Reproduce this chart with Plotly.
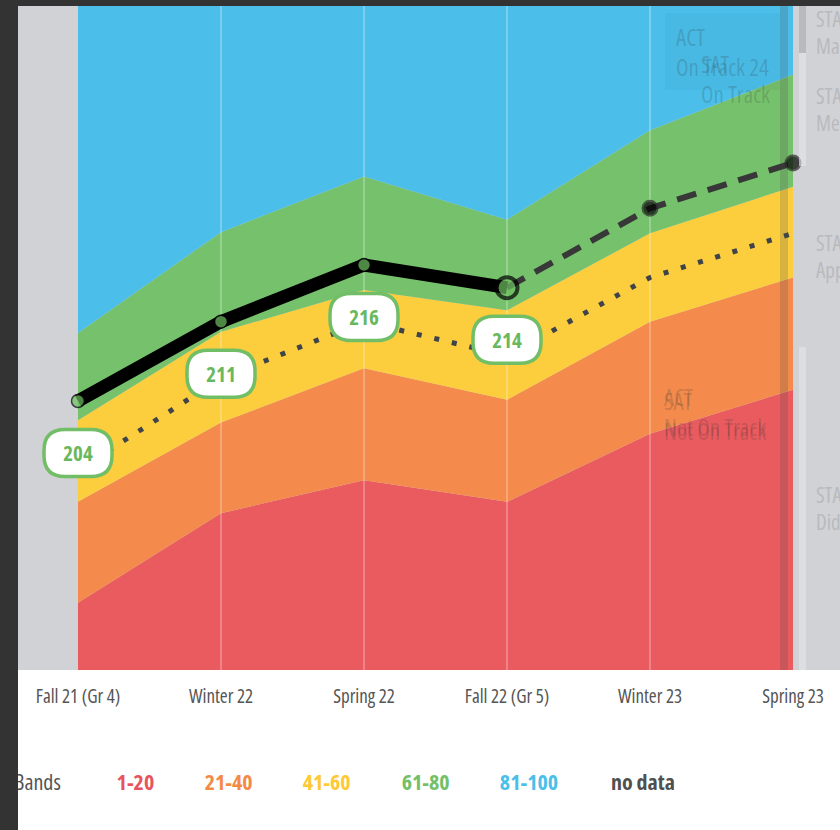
import plotly.graph_objects as go

# ---------------- data ----------------
periods = ["Fall 21 (Gr 4)", "Winter 22", "Spring 22", "Fall 22 (Gr 5)", "Winter 23", "Spring 23"]
band_1_20_top = [186.2, 194.1, 197.0, 195.1, 201.1, 205.0]
band_21_40_top = [195.1, 202.1, 206.9, 204.1, 211.0, 214.9]
band_41_60_top = [202.3, 210.1, 213.8, 212.0, 218.8, 222.9]
band_61_80_top = [210.0, 218.9, 223.8, 220.0, 227.9, 232.8]
band_81_100_top = [260, 260, 260, 260, 260, 260]
band_floor = [170, 170, 170, 170, 170, 170]

rit_actual = [204, 211, 216, 214]
rit_projected = [214, 221, 225]
typical_growth = [197.9, 206.0, 211.0, 208.0, 214.9, 218.8]

legend_title = "Bands"
legend_labels = ["1-20", "21-40", "41-60", "61-80", "81-100", "no data"]

# ---------------- style ----------------
W, H = 840, 830
ML, MR, MT, MB = 18, 0, 6, 160
PW, PH = W - ML - MR, H - MT - MB
band_colors = ["#e95b5f", "#f48b4c", "#fccd3d", "#76c16c", "#4bbfea"]
legend_colors = ["#e8545e", "#f38b47", "#fdc935", "#74bf67", "#4bbfe9", "#505050"]
GREEN_LBL = "#72be66"
FONT = "Open Sans, sans-serif"

x_idx = list(range(len(periods)))
X0_PX, X_STEP = 78, 143
X_RANGE = [(ML - X0_PX) / X_STEP, (W - X0_PX) / X_STEP]
PX_PER_UNIT = 136 / 12
Y_RANGE = [204 - (670 - 401) / PX_PER_UNIT, 204 + (401 - 6) / PX_PER_UNIT]


def pxx(p):
    return (p - ML) / PW


def pxy(p):
    return 1 - (p - MT) / PH


def px_to_x(p):
    return (p - X0_PX) / X_STEP


fig = go.Figure()

# bands (stacked fills)
fig.add_trace(go.Scatter(x=x_idx, y=band_floor, mode="lines", line=dict(width=0),
                         hoverinfo="skip", showlegend=False))
for tops, col in zip([band_1_20_top, band_21_40_top, band_41_60_top, band_61_80_top, band_81_100_top],
                     band_colors):
    fig.add_trace(go.Scatter(x=x_idx, y=tops, mode="lines", line=dict(width=0),
                             fill="tonexty", fillcolor=col, hoverinfo="skip", showlegend=False))

# vertical grid lines (inner periods)
gx, gy = [], []
for i in x_idx[1:-1]:
    gx += [i, i, None]
    gy += [Y_RANGE[0] - 5, Y_RANGE[1] + 5, None]
fig.add_trace(go.Scatter(x=gx, y=gy, mode="lines",
                         line=dict(color="rgba(255,255,255,0.5)", width=1),
                         hoverinfo="skip", showlegend=False))

# typical growth dotted line
fig.add_trace(go.Scatter(x=x_idx, y=typical_growth, mode="lines",
                         line=dict(color="#3e4449", width=5, dash="5px,13px"),
                         hoverinfo="skip", showlegend=False))

# translucent scroll strip near the right edge (UI artifact)
sx0, sx1 = px_to_x(780), px_to_x(788)
fig.add_trace(go.Scatter(x=[sx0, sx1, sx1, sx0, sx0],
                         y=[Y_RANGE[0] - 5, Y_RANGE[0] - 5, Y_RANGE[1] + 5, Y_RANGE[1] + 5, Y_RANGE[0] - 5],
                         mode="lines", line=dict(width=0), fill="toself",
                         fillcolor="rgba(70,70,70,0.2)", hoverinfo="skip", showlegend=False))

# projected dashed line
proj_x = x_idx[3:]
fig.add_trace(go.Scatter(x=proj_x, y=rit_projected, mode="lines+markers",
                         line=dict(color="#383838", width=6, dash="20px,12px"),
                         marker=dict(size=[0, 15, 15], color="#000000",
                                     line=dict(color="#2e2e2e", width=2)),
                         hoverinfo="skip", showlegend=False))

# actual RIT solid line
act_x = x_idx[:len(rit_actual)]
fig.add_trace(go.Scatter(x=act_x, y=rit_actual, mode="lines+markers",
                         line=dict(color="#000000", width=13),
                         marker=dict(size=[13, 13, 13, 21], color="#6fbf62",
                                     line=dict(color="#000000", width=[1.5, 1.5, 1.5, 4])),
                         hoverinfo="skip", showlegend=False))

shapes = []
annotations = []

# value labels (rounded boxes)
bw, bh, r, off = 68, 47, 21, 52
yb, yt = -off - bh / 2, -off + bh / 2
path = (f"M {-bw/2+r},{yb} L {bw/2-r},{yb} Q {bw/2},{yb} {bw/2},{yb+r} "
        f"L {bw/2},{yt-r} Q {bw/2},{yt} {bw/2-r},{yt} L {-bw/2+r},{yt} "
        f"Q {-bw/2},{yt} {-bw/2},{yt-r} L {-bw/2},{yb+r} Q {-bw/2},{yb} {-bw/2+r},{yb} Z")
for i, v in zip(act_x, rit_actual):
    shapes.append(dict(type="path", xref="x", yref="y", xsizemode="pixel", ysizemode="pixel",
                       xanchor=i, yanchor=v, path=path, fillcolor="white",
                       line=dict(color=GREEN_LBL, width=3.5), layer="above"))
    annotations.append(dict(x=i, y=v, xref="x", yref="y", text=f"<b>{v}</b>", showarrow=False,
                            yshift=-off, font=dict(family=FONT, size=21, color="#6ab85e")))

# right gray panel scroll artifacts
shapes.append(dict(type="rect", xref="paper", yref="paper", x0=pxx(799), x1=pxx(806),
                   y0=pxy(166), y1=1, fillcolor="rgba(230,230,232,0.6)", line=dict(width=0), layer="above"))
shapes.append(dict(type="rect", xref="paper", yref="paper", x0=pxx(799), x1=pxx(806),
                   y0=pxy(53), y1=1, fillcolor="rgba(150,150,155,0.5)", line=dict(width=0), layer="above"))
shapes.append(dict(type="rect", xref="paper", yref="paper", x0=pxx(799), x1=pxx(806),
                   y0=0, y1=pxy(347), fillcolor="rgba(230,230,232,0.6)", line=dict(width=0), layer="above"))
shapes.append(dict(type="rect", xref="paper", yref="paper", x0=pxx(665), x1=pxx(780),
                   y0=pxy(90), y1=pxy(13), fillcolor="rgba(0,0,0,0.03)", line=dict(width=0), layer="above"))

# dark frame (top)
shapes.append(dict(type="rect", xref="paper", yref="paper", x0=-ML / PW, x1=1.01,
                   y0=1, y1=1 + MT / PH + 0.01, fillcolor="#333333", line=dict(width=0), layer="above"))

# faint overlay texts
faint = "rgba(50,50,50,0.20)"
annotations += [
    dict(x=pxx(674), y=pxy(52), xref="paper", yref="paper", text="ACT<br>On Track 24", showarrow=False,
         xanchor="left", yanchor="middle", align="left", font=dict(family=FONT, size=23, color=faint)),
    dict(x=pxx(699), y=pxy(79), xref="paper", yref="paper", text="SAT<br>On Track", showarrow=False,
         xanchor="left", yanchor="middle", align="left", font=dict(family=FONT, size=23, color=faint)),
    dict(x=pxx(662), y=pxy(412), xref="paper", yref="paper", text="ACT<br>Not On Track", showarrow=False,
         xanchor="left", yanchor="middle", align="left", font=dict(family=FONT, size=23, color=faint)),
    dict(x=pxx(662), y=pxy(416), xref="paper", yref="paper", text="SAT<br>Not On Track", showarrow=False,
         xanchor="left", yanchor="middle", align="left", font=dict(family=FONT, size=23, color=faint)),
]
# right panel STAAR labels (cut by the page edge)
for txt, yc in [("STAAR<br>Masters", 32), ("STAAR<br>Meets", 109), ("STAAR<br>Approaches", 256),
                ("STAAR<br>Did Not Meet", 508)]:
    annotations.append(dict(x=pxx(814), y=pxy(yc), xref="paper", yref="paper", text=txt,
                            showarrow=False, xanchor="left", yanchor="middle", align="left",
                            font=dict(family=FONT, size=21, color="#b9babe")))

# bottom legend row
annotations.append(dict(x=pxx(12), y=pxy(781), xref="paper", yref="paper", text=legend_title,
                        showarrow=False, xanchor="left", yanchor="middle", align="left",
                        font=dict(family=FONT, size=22, color="#555555")))
legend_cx = [135, 228, 326, 425, 529, 643]
for lab, col, cx in zip(legend_labels, legend_colors, legend_cx):
    annotations.append(dict(x=pxx(cx), y=pxy(781), xref="paper", yref="paper", text=f"<b>{lab}</b>",
                            showarrow=False, xanchor="center", yanchor="middle",
                            font=dict(family=FONT, size=22, color=col)))

# dark left frame drawn last so it covers text edges
annotations.append(dict(x=pxx(0), y=pxy(0), xref="paper", yref="paper", text=" ",
                        showarrow=False, xanchor="left", yanchor="top", width=18, height=H,
                        bgcolor="#333333", borderpad=0, borderwidth=0))

fig.update_layout(
    width=W, height=H,
    margin=dict(l=ML, r=MR, t=MT, b=MB, pad=0),
    paper_bgcolor="white", plot_bgcolor="#d1d2d6",
    showlegend=False,
    xaxis=dict(range=X_RANGE, tickvals=x_idx, ticktext=periods, showgrid=False, zeroline=False,
               showline=False, ticks="", ticklabelstandoff=13,
               tickfont=dict(family=FONT, size=19, color="#555555"), fixedrange=True),
    yaxis=dict(range=Y_RANGE, visible=False, showgrid=False, zeroline=False, fixedrange=True),
    shapes=shapes, annotations=annotations,
)

post = ("document.body.style.margin='0';document.body.style.overflow='hidden';"
        "var gd=document.getElementById('{plot_id}');"
        "gd.querySelectorAll('text').forEach(function(t){t.style.fontStretch='75%';});")
fig.write_html("out.html", post_script=post, config={"displayModeBar": False})
